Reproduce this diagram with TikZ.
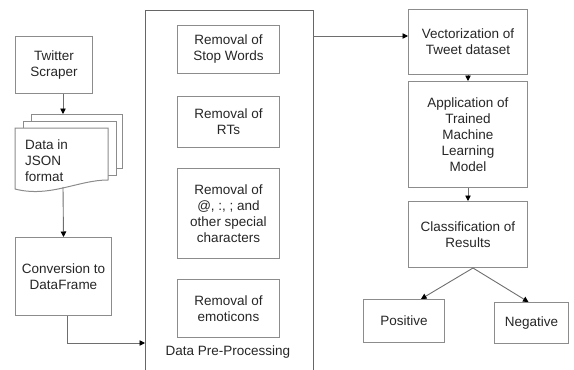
\documentclass[tikz,border=0pt]{standalone}
\usepackage{fontspec}
\setmainfont{Liberation Sans}
\usetikzlibrary{arrows.meta,calc}
\definecolor{boxline}{HTML}{8C8C8C}
\definecolor{conline}{HTML}{6E6E6E}
\definecolor{txt}{HTML}{262626}
\tikzset{
  box/.style={draw=boxline, line width=1pt, align=center, text=txt, inner sep=0pt,
    font=\fontsize{13.5}{16}\selectfont, anchor=north west},
  arr/.style={draw=conline, line width=0.9pt, -{Triangle[length=5.5pt,width=5.5pt,color=black,fill=black]}},
  con/.style={draw=conline, line width=0.9pt},
  sheet/.style={draw=boxline, line width=1pt, fill=white},
}
\begin{document}
\begin{tikzpicture}[x=1pt,y=-1pt]
\useasboundingbox (0,0) rectangle (574,370);
\clip (0,0) rectangle (574,370);
% left column
\node[box, minimum width=77, minimum height=57] (twitter) at (15,36) {Twitter\\Scraper};
% multi-document shape
\draw[sheet] (31,121) -- (31,114) -- (122,114) -- (122,168) -- (116,168);
\draw[sheet] (23,128) -- (23,121) -- (116,121) -- (116,175) -- (108,175);
\draw[sheet] (15,128) -- (108,128) -- (108,180) .. controls (78,180) and (50,198) .. (15,189) -- cycle;
\node[inner sep=0pt, minimum width=93, minimum height=60, anchor=north west] (json) at (15,128) {};
\node[align=left, text=txt, inner sep=0pt, anchor=north west, font=\fontsize{13.5}{16}\selectfont] (jsontext) at (25,140) {Data in\\JSON\\format};
\coordinate (jsontop) at (63,114);
\coordinate (jsonbot) at (63,187);
\node[box, minimum width=96, minimum height=78] (conv) at (15,237) {Conversion to\\DataFrame};
% pre-processing container
\node[draw=black!60, line width=1.3pt, minimum width=168, minimum height=380, anchor=north west, inner sep=0pt] (pre) at (145,10) {};
\node[box, minimum width=102, minimum height=48] (r1) at (177,25) {Removal of\\Stop Words};
\node[box, minimum width=102, minimum height=51] (r2) at (177,96) {Removal of\\RTs};
\node[box, minimum width=102, minimum height=90] (r3) at (177,168) {Removal of\\@, :, ; and\\other special\\characters};
\node[box, minimum width=102, minimum height=58] (r4) at (177,279) {Removal of\\emoticons};
\node[text=txt, inner sep=0pt, font=\fontsize{13.5}{16}\selectfont] (prelabel) at (228,352) {Data Pre-Processing};
\coordinate (entry) at (145,343);
\coordinate (exitpt) at (313,36);
% right column
\node[box, minimum width=119, minimum height=65] (vec) at (408,9) {Vectorization of\\Tweet dataset};
\node[box, minimum width=119, minimum height=106] (app) at (408,81) {Application of\\Trained\\Machine\\Learning\\Model};
\node[box, minimum width=119, minimum height=66] (cls) at (408,201) {Classification of\\Results};
\node[box, minimum width=81, minimum height=43] (pos) at (363,299) {Positive};
\node[box, minimum width=74, minimum height=41] (neg) at (494,302) {Negative};
% connectors
\draw[arr] (twitter.south -| jsontop) -- (jsontop);
\draw[arr] (jsonbot) -- (conv.north |- 0,237);
\draw[arr] ($(conv.south)+(4,0)$) |- (entry);
\draw[arr] (exitpt) -- (vec.west |- exitpt);
\draw[arr] (vec.south) -- (app.north);
\draw[arr] (app.south) -- (cls.north);
\draw[arr] ($(cls.south)+(5,0)$) -- ($(pos.north)+(17,0)$);
\draw[arr] ($(cls.south)+(5,0)$) -- ($(neg.north)+(-3,0)$);
\end{tikzpicture}
\end{document}
